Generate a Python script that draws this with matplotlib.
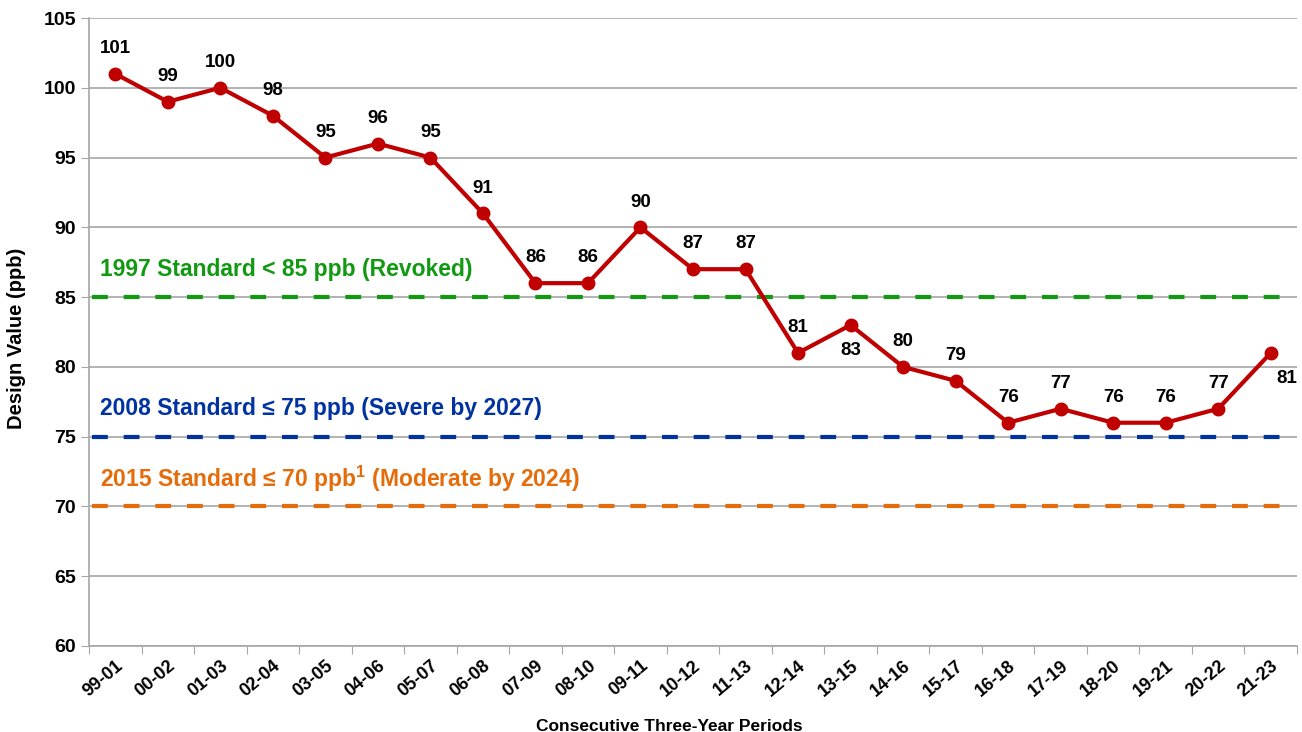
import matplotlib
matplotlib.use('Agg')
import matplotlib.pyplot as plt

periods = ['99-01', '00-02', '01-03', '02-04', '03-05', '04-06', '05-07', '06-08',
           '07-09', '08-10', '09-11', '10-12', '11-13', '12-14', '13-15', '14-16',
           '15-17', '16-18', '17-19', '18-20', '19-21', '20-22', '21-23']
design_values = [101, 99, 100, 98, 95, 96, 95, 91, 86, 86, 90, 87, 87, 81, 83, 80,
                 79, 76, 77, 76, 76, 77, 81]
# labels drawn below the point for these periods
below_labels = ['13-15', '21-23']

std_values = [85, 75, 70]
std_labels = ['1997 Standard < 85 ppb (Revoked)',
              '2008 Standard \u2264 75 ppb (Severe by 2027)',
              '2015 Standard \u2264 70 ppb$^{\\mathbf{1}}$ (Moderate by 2024)']
std_colors = ['#119911', '#0033a0', '#e46c0a']

plt.rcParams['font.family'] = ['Liberation Sans', 'DejaVu Sans']
plt.rcParams['mathtext.fontset'] = 'custom'
plt.rcParams['mathtext.bf'] = 'Liberation Sans:bold'

fig = plt.figure(figsize=(13.02, 7.32), dpi=100)
ax = fig.add_axes([89 / 1302, 1 - 646 / 732, (1297 - 89) / 1302, (646 - 18) / 732])

x = [i + 0.5 for i in range(len(periods))]
ax.set_xlim(0, len(periods))
ax.set_ylim(60, 105)
ax.set_yticks(range(60, 106, 5))
ax.grid(axis='y', color='#a6a6a6', linewidth=1.2, zorder=0)
ax.set_axisbelow(True)

# standard lines + labels
for v, lab, c in zip(std_values, std_labels, std_colors):
    ax.plot([0.05, len(periods) - 0.3], [v, v], color=c, linewidth=3,
            dashes=(3.8, 3.8), zorder=2)
    ax.text(0.2, v + 2.0, lab, color=c, fontsize=16.5, fontweight='bold',
            va='center', ha='left')

ax.plot(x, design_values, color='#c00000', linewidth=3, marker='o',
        markersize=9, zorder=3)

for xi, p, v in zip(x, periods, design_values):
    if p in below_labels:
        dx = 0.3 if p == periods[-1] else 0
        ax.text(xi + dx, v - 1.2, str(v), ha='center', va='top', fontsize=13.5,
                fontweight='bold')
    else:
        ax.text(xi, v + 1.2, str(v), ha='center', va='bottom', fontsize=13.5,
                fontweight='bold')

ax.set_xticks(range(len(periods) + 1))
ax.set_xticklabels([])
ax.set_xticks(x, minor=True)
ax.set_xticklabels(periods, minor=True, rotation=40, ha='right',
                   rotation_mode='anchor', fontsize=13, fontweight='bold')
ax.tick_params(axis='x', which='minor', length=0, pad=8)
ax.tick_params(axis='x', which='major', length=6, color='#a6a6a6', direction='out')
ax.tick_params(axis='y', length=6, color='#a6a6a6', labelsize=14)
for t in ax.get_yticklabels():
    t.set_fontweight('bold')

for s in ['top', 'right']:
    ax.spines[s].set_visible(False)
for s in ['left', 'bottom']:
    ax.spines[s].set_color('#a6a6a6')
    ax.spines[s].set_linewidth(1.2)

ax.set_ylabel('Design Value (ppb)', fontsize=14.5, fontweight='bold')
ax.yaxis.set_label_coords(-0.052, 0.49)
ax.set_xlabel('Consecutive Three-Year Periods', fontsize=12.5, fontweight='bold')
ax.xaxis.set_label_coords(0.48, -0.117)

fig.savefig('out.png', dpi=100)
